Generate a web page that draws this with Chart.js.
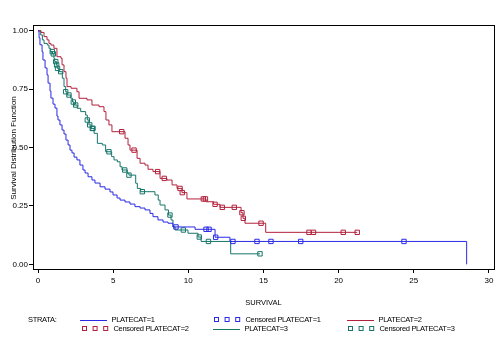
<!DOCTYPE html>
<html>
<head>
<meta charset="utf-8">
<script src="https://cdn.jsdelivr.net/npm/chart.js@4/dist/chart.umd.min.js"></script>
<style>
  html, body { margin: 0; padding: 0; background: #fff; }
  #wrap { width: 500px; height: 345px; }
</style>
</head>
<body>
<div id="wrap"><canvas id="km"></canvas></div>
<script>
// PLATECAT=1
const time1 = [0, 0.07, 0.13, 0.27, 0.33, 0.47, 0.60, 0.67, 0.80, 0.86, 1.00, 1.13, 1.26, 1.33, 1.46, 1.60, 1.73, 1.86, 2.00, 2.13, 2.26, 2.40, 2.59, 2.79, 2.99, 3.13, 3.33, 3.59, 3.79, 4.13, 4.46, 4.79, 4.99, 5.26, 5.46, 5.79, 6.12, 6.45, 6.79, 7.12, 7.45, 7.65, 7.98, 8.32, 8.65, 8.98, 10.45, 11.78, 12.77, 28.52];
const surv1 = [1, 0.970, 0.940, 0.910, 0.875, 0.841, 0.811, 0.776, 0.742, 0.712, 0.686, 0.669, 0.635, 0.618, 0.597, 0.575, 0.558, 0.532, 0.511, 0.489, 0.477, 0.459, 0.447, 0.425, 0.404, 0.391, 0.375, 0.361, 0.348, 0.332, 0.322, 0.310, 0.297, 0.284, 0.275, 0.267, 0.258, 0.247, 0.241, 0.233, 0.218, 0.204, 0.190, 0.181, 0.176, 0.160, 0.150, 0.116, 0.098, 0];
const cens1Time = [9.18, 11.18, 11.38, 11.82, 12.97, 14.57, 15.50, 17.48, 24.35];
const cens1Surv = [0.160, 0.150, 0.150, 0.116, 0.098, 0.098, 0.098, 0.098, 0.098];

// PLATECAT=2
const time2 = [0, 0.20, 0.40, 0.60, 0.73, 0.86, 1.06, 1.26, 1.53, 1.60, 1.73, 1.86, 1.93, 2.20, 2.59, 2.73, 3.26, 3.59, 4.06, 4.39, 4.52, 4.72, 4.92, 5.79, 5.99, 6.12, 6.59, 6.79, 7.12, 7.32, 7.65, 8.12, 8.58, 8.92, 9.25, 9.58, 9.91, 11.18, 11.68, 12.11, 13.51, 13.64, 13.77, 15.15, 21.24];
const surv2 = [1, 0.993, 0.975, 0.961, 0.946, 0.939, 0.925, 0.889, 0.882, 0.854, 0.825, 0.797, 0.761, 0.754, 0.739, 0.711, 0.704, 0.682, 0.675, 0.654, 0.618, 0.597, 0.568, 0.540, 0.511, 0.489, 0.454, 0.433, 0.425, 0.407, 0.397, 0.368, 0.361, 0.340, 0.325, 0.307, 0.280, 0.268, 0.257, 0.244, 0.221, 0.197, 0.176, 0.137, 0.137];
const cens2Time = [5.57, 6.39, 7.96, 8.40, 9.45, 9.60, 11.00, 11.14, 11.78, 12.26, 13.06, 13.57, 13.66, 14.84, 18.03, 18.33, 20.31, 21.24];
const cens2Surv = [0.568, 0.489, 0.397, 0.368, 0.325, 0.307, 0.280, 0.280, 0.257, 0.244, 0.244, 0.221, 0.197, 0.176, 0.137, 0.137, 0.137, 0.137];

// PLATECAT=3
const time3 = [0, 0.18, 0.29, 0.40, 0.62, 0.73, 0.84, 0.96, 1.06, 1.11, 1.23, 1.28, 1.40, 1.62, 1.73, 1.84, 1.93, 2.18, 2.30, 2.40, 2.61, 2.84, 3.17, 3.28, 3.39, 3.53, 3.73, 3.95, 4.28, 4.50, 4.90, 5.06, 5.28, 5.46, 5.59, 5.94, 6.05, 6.50, 6.61, 6.83, 7.78, 8.00, 8.12, 8.45, 8.68, 8.85, 8.98, 9.12, 9.98, 10.65, 10.85, 12.82, 14.77];
const surv3 = [1, 0.982, 0.961, 0.946, 0.939, 0.925, 0.911, 0.901, 0.882, 0.868, 0.854, 0.839, 0.825, 0.797, 0.761, 0.739, 0.725, 0.711, 0.695, 0.682, 0.668, 0.654, 0.639, 0.618, 0.597, 0.582, 0.561, 0.518, 0.511, 0.482, 0.461, 0.447, 0.439, 0.418, 0.404, 0.390, 0.382, 0.347, 0.325, 0.311, 0.297, 0.275, 0.254, 0.233, 0.211, 0.190, 0.161, 0.147, 0.133, 0.117, 0.098, 0.045, 0.045];
const cens3Time = [0.95, 1.02, 1.18, 1.24, 1.30, 1.51, 1.84, 2.06, 2.35, 2.51, 3.28, 3.44, 3.61, 3.66, 4.72, 5.77, 6.05, 6.94, 8.78, 9.67, 10.73, 11.34, 14.77];
const cens3Surv = [0.911, 0.901, 0.868, 0.854, 0.839, 0.825, 0.739, 0.725, 0.695, 0.682, 0.618, 0.597, 0.582, 0.582, 0.482, 0.404, 0.382, 0.311, 0.211, 0.147, 0.117, 0.098, 0.045];

const xTicks = [0, 5, 10, 15, 20, 25, 30];
const yTicks = [0, 0.25, 0.5, 0.75, 1];
const yTickLabels = ['0.00', '0.25', '0.50', '0.75', '1.00'];
const seriesNames = ['PLATECAT=1', 'PLATECAT=2', 'PLATECAT=3'];

let blue = '#2a2ae6';
let red = '#b3203c';
let green = '#16766a';
const FONT = '"Liberation Sans", Arial, sans-serif';

function pts(xs, ys) {
  return xs.map((x, i) => ({x: x, y: ys[i]}));
}

function curve(label, xs, ys, color) {
  return {
    type: 'line', label: label, data: pts(xs, ys),
    borderColor: color, borderWidth: 1, stepped: true,
    pointRadius: 0, fill: false
  };
}

function censored(label, xs, ys, color) {
  return {
    type: 'line', label: label, data: pts(xs, ys), showLine: false,
    pointStyle: 'rect', pointRadius: 3.1, borderColor: color, borderWidth: 1,
    pointBackgroundColor: 'rgba(0,0,0,0)', pointBorderColor: color
  };
}

// frame round the plot, rotated y title, SAS-like legend
const decorations = {
  id: 'decorations',
  afterDraw(chart) {
    const ctx = chart.ctx;
    const a = chart.chartArea;
    ctx.save();
    ctx.strokeStyle = '#000';
    ctx.lineWidth = 1;
    ctx.strokeRect(Math.round(a.left) + 0.5, Math.round(a.top) + 0.5,
      Math.round(a.right - a.left), Math.round(a.bottom - a.top));

    ctx.fillStyle = '#000';
    ctx.font = '8px ' + FONT;
    ctx.textAlign = 'center';
    ctx.textBaseline = 'middle';
    ctx.translate(14, 148);
    ctx.rotate(-Math.PI / 2);
    ctx.fillText('Survival Distribution Function', 0, 0);
    ctx.restore();

    ctx.save();
    ctx.font = '7.5px ' + FONT;
    if ('letterSpacing' in ctx) ctx.letterSpacing = '-0.3px';
    ctx.textBaseline = 'middle';
    ctx.fillStyle = '#000';
    ctx.fillText('STRATA:', 28, 320);
    const items = [
      {ds: 0, x: 80, y: 320}, {ds: 1, x: 214, y: 320}, {ds: 2, x: 347, y: 320},
      {ds: 3, x: 82, y: 329}, {ds: 4, x: 213, y: 329}, {ds: 5, x: 348, y: 329}
    ];
    items.forEach(it => {
      const ds = chart.data.datasets[it.ds];
      ctx.strokeStyle = ds.borderColor;
      ctx.lineWidth = 1;
      if (ds.showLine === false) {
        for (let k = 0; k < 3; k++) {
          ctx.strokeRect(it.x + k * 10.6 + 0.5, it.y - 2.5, 4, 4);
        }
      } else {
        ctx.beginPath();
        ctx.moveTo(it.x, it.y + 0.5);
        ctx.lineTo(it.x + 27, it.y + 0.5);
        ctx.stroke();
      }
      ctx.fillStyle = '#000';
      ctx.fillText(ds.label, it.x + 31.5, it.y);
    });
    ctx.restore();
  }
};

const ctx = document.getElementById('km');
new Chart(ctx, {
  data: {
    datasets: [
      curve(seriesNames[0], time1, surv1, blue),
      censored('Censored ' + seriesNames[0], cens1Time, cens1Surv, blue),
      curve(seriesNames[1], time2, surv2, red),
      censored('Censored ' + seriesNames[1], cens2Time, cens2Surv, red),
      curve(seriesNames[2], time3, surv3, green),
      censored('Censored ' + seriesNames[2], cens3Time, cens3Surv, green)
    ]
  },
  options: {
    responsive: true,
    maintainAspectRatio: false,
    animation: false,
    layout: { padding: {top: 25, right: 6, left: 0, bottom: 0} },
    plugins: {
      legend: { display: false },
      tooltip: { enabled: false }
    },
    scales: {
      x: {
        type: 'linear',
        min: -0.333,
        max: 30.34,
        afterBuildTicks: s => { s.ticks = xTicks.map(v => ({value: v})); },
        afterFit: s => { s.height = 76; },
        grid: { display: true, drawOnChartArea: false, drawTicks: true, tickLength: 4, color: '#000' },
        border: { display: false },
        ticks: {
          font: {family: FONT, size: 8}, color: '#000', padding: 3,
          maxRotation: 0, autoSkip: false,
          callback: v => String(v)
        },
        title: {
          display: true, text: 'SURVIVAL', color: '#000',
          font: {family: FONT, size: 7.5}, padding: {top: 0, bottom: 38}
        }
      },
      y: {
        type: 'linear',
        min: -0.020,
        max: 1.0248,
        afterBuildTicks: s => { s.ticks = yTicks.map(v => ({value: v})); },
        afterFit: s => { s.width = 33; },
        grid: { display: true, drawOnChartArea: false, drawTicks: true, tickLength: 4, color: '#000' },
        border: { display: false },
        ticks: {
          font: {family: FONT, size: 8}, color: '#000', padding: 1, autoSkip: false,
          callback: v => yTickLabels[yTicks.indexOf(v)]
        }
      }
    }
  },
  plugins: [decorations]
});
</script>
</body>
</html>
